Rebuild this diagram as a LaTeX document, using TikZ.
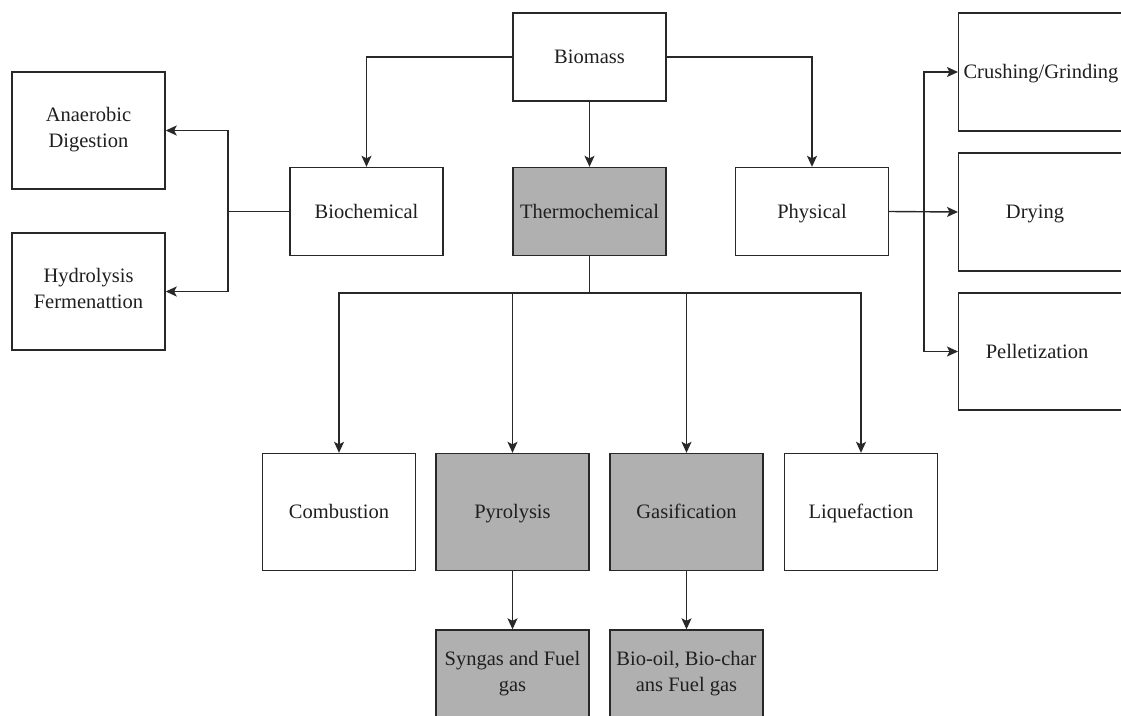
\documentclass[tikz,border=0pt]{standalone}
\usepackage{fontspec}
\setmainfont{Liberation Serif}
\usetikzlibrary{arrows.meta}
\definecolor{boxgray}{RGB}{176,176,176}
\definecolor{linecol}{RGB}{40,40,40}
\newcommand\boxstrut{\rule[-6.2pt]{0pt}{26pt}}
\begin{document}
\begin{tikzpicture}[x=1pt,y=-1pt,
  every node/.style={font=\fontsize{20.5}{26}\selectfont, text=black!88},
  box/.style={draw=linecol, line width=1.4pt, rectangle, minimum width=153pt, inner sep=0pt, align=center,
              execute at begin node={\boxstrut}, execute at end node={\boxstrut}},
  tallbox/.style={box, minimum height=117pt},
  flatbox/.style={box, minimum height=88pt},
  shaded/.style={fill=boxgray},
  plain/.style={fill=white},
  conn/.style={draw=linecol, line width=1.4pt},
  arr/.style={conn, -{Stealth[length=11pt,width=10pt,inset=2.5pt]}},
  lbl/.style={inner sep=0pt, align=center, execute at begin node={\boxstrut}}
]
\useasboundingbox (0,0) rectangle (1121,715);
\fill[white] (0,0) rectangle (1121,715);

% top row
\node[flatbox, plain] (biomass) at (589.5,57) {Biomass};
\node[flatbox, shaded] (thermo) at (589.5,211.5) {Thermochemical};
\node[flatbox, plain] (biochem) at (366.5,211.5) {Biochemical};
\node[flatbox, plain] (physical) at (812,211.5) {Physical};

% left boxes
\node[tallbox, plain] (anaer) at (88.5,130.5) {Anaerobic\\Digestion};
\node[tallbox, plain] (hydro) at (88.5,291.5) {Hydrolysis\\Fermenattion};

% right boxes (cut by the picture edge)
\node[box, plain, minimum width=190pt, minimum height=118pt, anchor=west] (crushbox) at (958,72) {};
\node[box, plain, minimum width=190pt, minimum height=118pt, anchor=west] (drybox) at (958,212) {};
\node[box, plain, minimum width=190pt, minimum height=117pt, anchor=west] (pelletbox) at (958,351.5) {};
\node[lbl] (crush) at (1041,72) {Crushing/Grinding};
\node[lbl] (dry) at (1035,212) {Drying};
\node[lbl] (pellet) at (1037,351.5) {Pelletization};

% bottom row
\node[tallbox, plain] (comb) at (339,512) {Combustion};
\node[tallbox, shaded] (pyro) at (512.5,512) {Pyrolysis};
\node[tallbox, shaded] (gasif) at (686.5,512) {Gasification};
\node[tallbox, plain] (lique) at (861,512) {Liquefaction};

% products
\node[flatbox, shaded] (syngas) at (512.5,674) {Syngas and Fuel\\gas};
\node[flatbox, shaded] (biooil) at (686.5,674) {Bio-oil, Bio-char\\ans Fuel gas};

% junctions
\coordinate (tbus) at (589.5,293);
\coordinate (lbus) at (228,211.5);
\coordinate (rbus) at (924,212);

% connectors
\draw[arr] (biomass.west) -| (biochem.north);
\draw[arr] (biomass.east) -| (physical.north);
\draw[arr] (biomass.south) -- (thermo.north);

\draw[conn] (thermo.south) -- (tbus);
\draw[arr] (tbus) -| (comb.north);
\draw[arr] (tbus) -| (pyro.north);
\draw[arr] (tbus) -| (gasif.north);
\draw[arr] (tbus) -| (lique.north);

\draw[conn] (biochem.west) -- (lbus);
\draw[arr] (lbus) |- (anaer.east);
\draw[arr] (lbus) |- (hydro.east);

\draw[arr] (physical.east) -- (drybox.west);
\draw[arr] (rbus) |- (crushbox.west);
\draw[arr] (rbus) |- (pelletbox.west);

\draw[arr] (pyro.south) -- (syngas.north);
\draw[arr] (gasif.south) -- (biooil.north);
\end{tikzpicture}
\end{document}
